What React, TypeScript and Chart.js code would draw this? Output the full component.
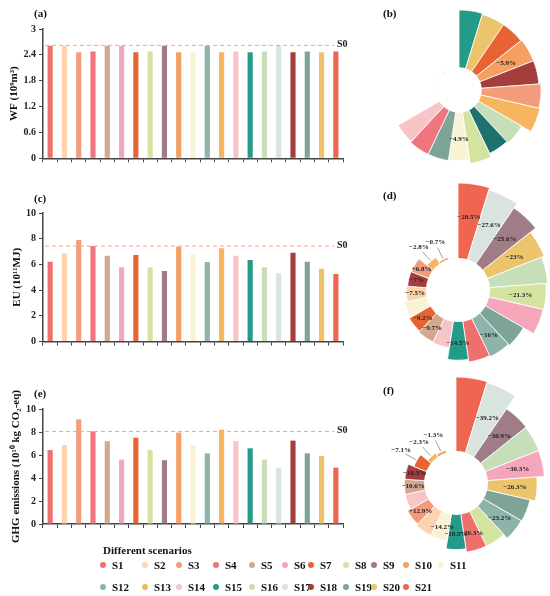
import { useEffect, useRef } from "react";
import Chart from "chart.js/auto";

const FONT = '"Liberation Serif", "Times New Roman", serif';

// scenarios and their colours
const scenarios = [
  "S1", "S2", "S3", "S4", "S5", "S6", "S7", "S8", "S9", "S10", "S11",
  "S12", "S13", "S14", "S15", "S16", "S17", "S18", "S19", "S20", "S21",
];
const scenarioColors = [
  "#ef6f6c", "#fdd3b0", "#f39c7c", "#ef767f", "#d4a78f", "#f5a6bb", "#e76432",
  "#d5e3a1", "#a07d86", "#f59f63", "#f8f3d4", "#8eb3ab", "#f5b65d", "#f7c5c5",
  "#239b88", "#c6dfb9", "#d9e4df", "#a43e3c", "#7ea497", "#ebc46b", "#ef6550",
];
const colorOf = (s: string) => scenarioColors[scenarios.indexOf(s)];

// (a) water footprint, 10^9 m3
const wfValues = [
  2.61, 2.61, 2.46, 2.48, 2.61, 2.61, 2.46, 2.48, 2.61, 2.46, 2.48,
  2.61, 2.46, 2.48, 2.46, 2.48, 2.61, 2.46, 2.48, 2.46, 2.48,
];
const wfBase = 2.62;
const wfTicks = [0, 0.6, 1.2, 1.8, 2.4, 3];

// (c) energy use, 10^11 MJ
const euValues = [
  6.21, 6.86, 7.9, 7.43, 6.68, 5.77, 6.73, 5.77, 5.49, 7.38, 6.79,
  6.19, 7.25, 6.68, 6.34, 5.77, 5.31, 6.91, 6.21, 5.67, 5.25,
];
const euBase = 7.43;
const euTicks = [0, 2, 4, 6, 8, 10];

// (e) GHG emissions, 10^10 kg CO2-eq
const ghgValues = [
  6.43, 6.87, 9.1, 8.05, 7.2, 5.6, 7.5, 6.43, 5.55, 7.95, 6.87,
  6.14, 8.2, 7.2, 6.58, 5.6, 4.9, 7.25, 6.14, 5.91, 4.9,
];
const ghgBase = 8.05;
const ghgTicks = [0, 2, 4, 6, 8, 10];

// (b) WF change, sorted ring
const wfRingOrder = [
  "S15", "S20", "S7", "S10", "S18", "S3", "S13", "S16", "S21", "S8", "S11",
  "S19", "S4", "S14", "S1", "S2", "S5", "S6", "S9", "S12", "S17",
];
const wfRingValues = [
  5.9, 5.8, 5.8, 5.9, 5.9, 6.1, 6.2, 5.1, 4.9, 5.3, 4.9,
  5.0, 5.0, 4.9, 0, 0, 0, 0, 0, 0, 0,
];
const wfRingTexts = ["", "", "", "−5.9%", "", "", "", "", "", "", "−4.9%"];
const wfRingColors = wfRingOrder.map((s, i) => (i === 8 ? "#1f716d" : colorOf(s)));

// (d) EU change
const euRingOrder = [
  "S21", "S17", "S9", "S20", "S16", "S8", "S6", "S19", "S12", "S1", "S15",
  "S14", "S5", "S7", "S11", "S2", "S18", "S3", "S13", "S10", "S4",
];
const euRingValues = [
  28.5, 27.6, 25.6, 23.0, 22.0, 21.3, 21.0, 16.5, 16.0, 15.5, 14.5,
  10.0, 9.7, 9.2, 8.6, 7.5, 7.0, 6.8, 2.8, 0.7, 0,
];
const euRingTexts = [
  "−28.5%", "−27.6%", "−25.6%", "−23%", "", "−21.3%", "", "", "−16%", "", "−14.5%",
  "", "−9.7%", "−9.2%", "", "−7.5%", "−7%", "+6.8%", "−2.8%", "−0.7%", "",
];
const euRingOutside = [18, 19];

// (f) GHG change
const ghgRingOrder = [
  "S21", "S17", "S9", "S16", "S6", "S20", "S19", "S12", "S8", "S1", "S15",
  "S11", "S2", "S3", "S14", "S5", "S18", "S7", "S13", "S10", "S4",
];
const ghgRingValues = [
  39.6, 39.2, 30.9, 30.5, 30.3, 26.3, 23.5, 23.2, 20.4, 20.3, 18.5,
  14.2, 14.0, 12.9, 10.8, 10.6, 10.3, 7.1, 2.3, 1.3, 0,
];
const ghgRingTexts = [
  "", "−39.2%", "−30.9%", "", "−30.3%", "−26.3%", "", "−23.2%", "", "−20.3%", "−18.5%",
  "−14.2%", "", "+12.9%", "", "−10.6%", "−10.3%", "−7.1%", "−2.3%", "−1.3%", "",
];
const ghgRingOutside = [17, 18, 19];

const baselinePlugin = {
  id: "baseline",
  afterDatasetsDraw(chart: any, _args: any, opts: any) {
    const { ctx, chartArea, scales } = chart;
    const y = scales.y.getPixelForValue(opts.value);
    ctx.save();
    ctx.strokeStyle = "#f5a683";
    ctx.lineWidth = 1;
    ctx.setLineDash([4, 3]);
    ctx.beginPath();
    ctx.moveTo(chartArea.left + 2, y);
    ctx.lineTo(chartArea.right - 9, y);
    ctx.stroke();
    ctx.setLineDash([]);
    ctx.fillStyle = "#222";
    ctx.font = `bold 10px ${FONT}`;
    ctx.textAlign = "left";
    ctx.textBaseline = "middle";
    ctx.fillText("S0", chartArea.right - 6, y - 1);
    ctx.restore();
  },
};

const ringPlugin = {
  id: "ring",
  afterDatasetsDraw(chart: any, _args: any, opts: any) {
    const { ctx } = chart;
    const scale = chart.scales.r;
    const cx = scale.xCenter;
    const cy = scale.yCenter;
    const r0 = scale.getDistanceFromCenterForValue(0);
    ctx.save();
    // white hole in the middle of the ring
    ctx.fillStyle = "#fff";
    ctx.beginPath();
    ctx.arc(cx, cy, r0, 0, Math.PI * 2);
    ctx.fill();
    const arcs = chart.getDatasetMeta(0).data;
    ctx.font = `bold 7px ${FONT}`;
    ctx.fillStyle = "#222";
    ctx.textAlign = "center";
    ctx.textBaseline = "middle";
    (opts.texts as string[]).forEach((t, i) => {
      if (!t || !arcs[i]) return;
      const { startAngle, endAngle, outerRadius } = arcs[i].getProps(
        ["startAngle", "endAngle", "outerRadius"], true);
      const a = (startAngle + endAngle) / 2;
      const cos = Math.cos(a);
      const sin = Math.sin(a);
      if ((opts.outside as number[]).includes(i)) {
        ctx.strokeStyle = "#8a8a8a";
        ctx.lineWidth = 0.8;
        ctx.beginPath();
        ctx.moveTo(cx + cos * (outerRadius + 1), cy + sin * (outerRadius + 1));
        ctx.lineTo(cx + cos * (outerRadius + 13), cy + sin * (outerRadius + 13));
        ctx.stroke();
        const rt = outerRadius + 18;
        ctx.fillText(t, cx + cos * rt, cy + sin * rt - 1);
      } else {
        const r = r0 + (outerRadius - r0) * 0.55;
        ctx.fillText(t, cx + cos * r, cy + sin * r);
      }
    });
    ctx.restore();
  },
};

interface BarPanelProps {
  values: number[];
  base: number;
  ticks: number[];
  title: string;
  top: number;
  height: number;
  padTop: number;
  padBottom: number;
  titlePad: number;
}

function BarPanel({ values, base, ticks, title, top, height, padTop, padBottom, titlePad }: BarPanelProps) {
  const chartRef = useRef<HTMLCanvasElement | null>(null);

  useEffect(() => {
    if (!chartRef.current) return;
    const chart = new Chart(chartRef.current, {
      type: "bar",
      data: {
        labels: scenarios,
        datasets: [
          {
            data: values,
            backgroundColor: scenarioColors,
            barPercentage: 0.36,
            categoryPercentage: 1,
          },
        ],
      },
      options: {
        animation: false,
        responsive: false,
        layout: { padding: { top: padTop, bottom: padBottom, left: 0, right: 19 } },
        plugins: {
          legend: { display: false },
          tooltip: { enabled: false },
          baseline: { value: base },
        } as any,
        scales: {
          x: {
            grid: { display: true, drawOnChartArea: false, offset: true, tickLength: 4, color: "#444" },
            border: { display: true, color: "#444", width: 1.5 },
            ticks: { display: false },
            afterFit: (s: any) => { s.height = 5; },
          },
          y: {
            min: ticks[0],
            max: ticks[ticks.length - 1],
            afterBuildTicks: (s: any) => { s.ticks = ticks.map((v) => ({ value: v })); },
            ticks: {
              color: "#222",
              padding: 3,
              font: { family: FONT, size: 10, weight: "bold" },
              callback: (v: any) => String(Number(v)),
            },
            grid: { drawOnChartArea: false, tickLength: 4, color: "#444" },
            border: { color: "#444", width: 1.5 },
            title: {
              display: true,
              text: title,
              color: "#111",
              font: { family: FONT, size: 11, weight: "bold" },
              padding: { top: titlePad, bottom: 0 },
            },
            afterFit: (s: any) => { s.width = 43; },
          },
        },
      },
      plugins: [baselinePlugin],
    });
    return () => chart.destroy();
  }, [values, base, ticks, title, padTop, padBottom, titlePad]);

  return (
    <canvas
      ref={chartRef}
      width={362}
      height={height}
      style={{ position: "absolute", left: 0, top, width: 362, height }}
    />
  );
}

interface RingPanelProps {
  order: string[];
  values: number[];
  colors: string[];
  texts: string[];
  outside: number[];
  min: number;
  max: number;
  cx: number;
  cy: number;
  radius: number;
}

function RingPanel({ order, values, colors, texts, outside, min, max, cx, cy, radius }: RingPanelProps) {
  const chartRef = useRef<HTMLCanvasElement | null>(null);

  useEffect(() => {
    if (!chartRef.current) return;
    const chart = new Chart(chartRef.current, {
      type: "polarArea",
      data: {
        labels: order,
        datasets: [{ data: values, backgroundColor: colors, borderColor: "#fff", borderWidth: 0.8 }],
      },
      options: {
        animation: false,
        responsive: false,
        layout: { padding: 0 },
        plugins: {
          legend: { display: false },
          tooltip: { enabled: false },
          ring: { texts, outside },
        } as any,
        scales: { r: { display: false, min, max, startAngle: 0 } },
      },
      plugins: [ringPlugin],
    });
    return () => chart.destroy();
  }, [order, values, colors, texts, outside, min, max]);

  const side = radius * 2;
  return (
    <canvas
      ref={chartRef}
      width={side}
      height={side}
      style={{ position: "absolute", left: cx - radius, top: cy - radius, width: side, height: side }}
    />
  );
}

const panelLabel = (text: string, left: number, top: number) => (
  <div
    key={text}
    style={{ position: "absolute", left, top, font: `bold 11px ${FONT}`, color: "#111", lineHeight: "12px" }}
  >
    {text}
  </div>
);

export default function App() {
  return (
    <div
      style={{
        position: "absolute", left: 0, top: 0, width: 550, height: 596,
        overflow: "hidden", background: "#fff",
      }}
    >
      <BarPanel values={wfValues} base={wfBase} ticks={wfTicks} title="WF (10⁹m³)"
        top={0} height={175} padTop={29} padBottom={11.7} titlePad={7.4} />
      <BarPanel values={euValues} base={euBase} ticks={euTicks} title="EU (10¹¹MJ)"
        top={180} height={180} padTop={33} padBottom={13.5} titlePad={10.4} />
      <BarPanel values={ghgValues} base={ghgBase} ticks={ghgTicks} title="GHG emissions (10¹⁰ kg CO₂-eq)"
        top={365} height={185} padTop={44} padBottom={21} titlePad={9.9} />

      <RingPanel order={wfRingOrder} values={wfRingValues} colors={wfRingColors}
        texts={wfRingTexts} outside={[]} min={-2.34} max={6.2} cx={459} cy={90} radius={83} />
      <RingPanel order={euRingOrder} values={euRingValues} colors={euRingOrder.map(colorOf)}
        texts={euRingTexts} outside={euRingOutside} min={-12.2} max={28.5} cx={458} cy={290} radius={107} />
      <RingPanel order={ghgRingOrder} values={ghgRingValues} colors={ghgRingOrder.map(colorOf)}
        texts={ghgRingTexts} outside={ghgRingOutside} min={-17.1} max={39.6} cx={456} cy={483} radius={106} />

      {panelLabel("(a)", 34, 7)}
      {panelLabel("(c)", 34, 192)}
      {panelLabel("(e)", 34, 387)}
      {panelLabel("(b)", 383, 7)}
      {panelLabel("(d)", 383, 189)}
      {panelLabel("(f)", 383, 384)}

      <div style={{ position: "absolute", left: 103, top: 543, font: `bold 11px ${FONT}`, color: "#111", lineHeight: "14px" }}>
        Different scenarios
      </div>
      <div
        style={{
          position: "absolute", left: 100, top: 554,
          display: "grid",
          gridTemplateColumns: "42px 34px 37px 36px 33px 26px 35px 28px 32px 35px 40px",
          gridAutoRows: "22px",
          alignItems: "center",
          font: `bold 11px ${FONT}`,
          color: "#111",
        }}
      >
        {scenarios.map((s, i) => (
          <div key={s} style={{ display: "flex", alignItems: "center", whiteSpace: "nowrap" }}>
            <span
              style={{
                display: "inline-block", width: 6, height: 6, borderRadius: 3,
                background: scenarioColors[i], marginRight: 6, flex: "none",
              }}
            />
            {s}
          </div>
        ))}
      </div>
    </div>
  );
}
